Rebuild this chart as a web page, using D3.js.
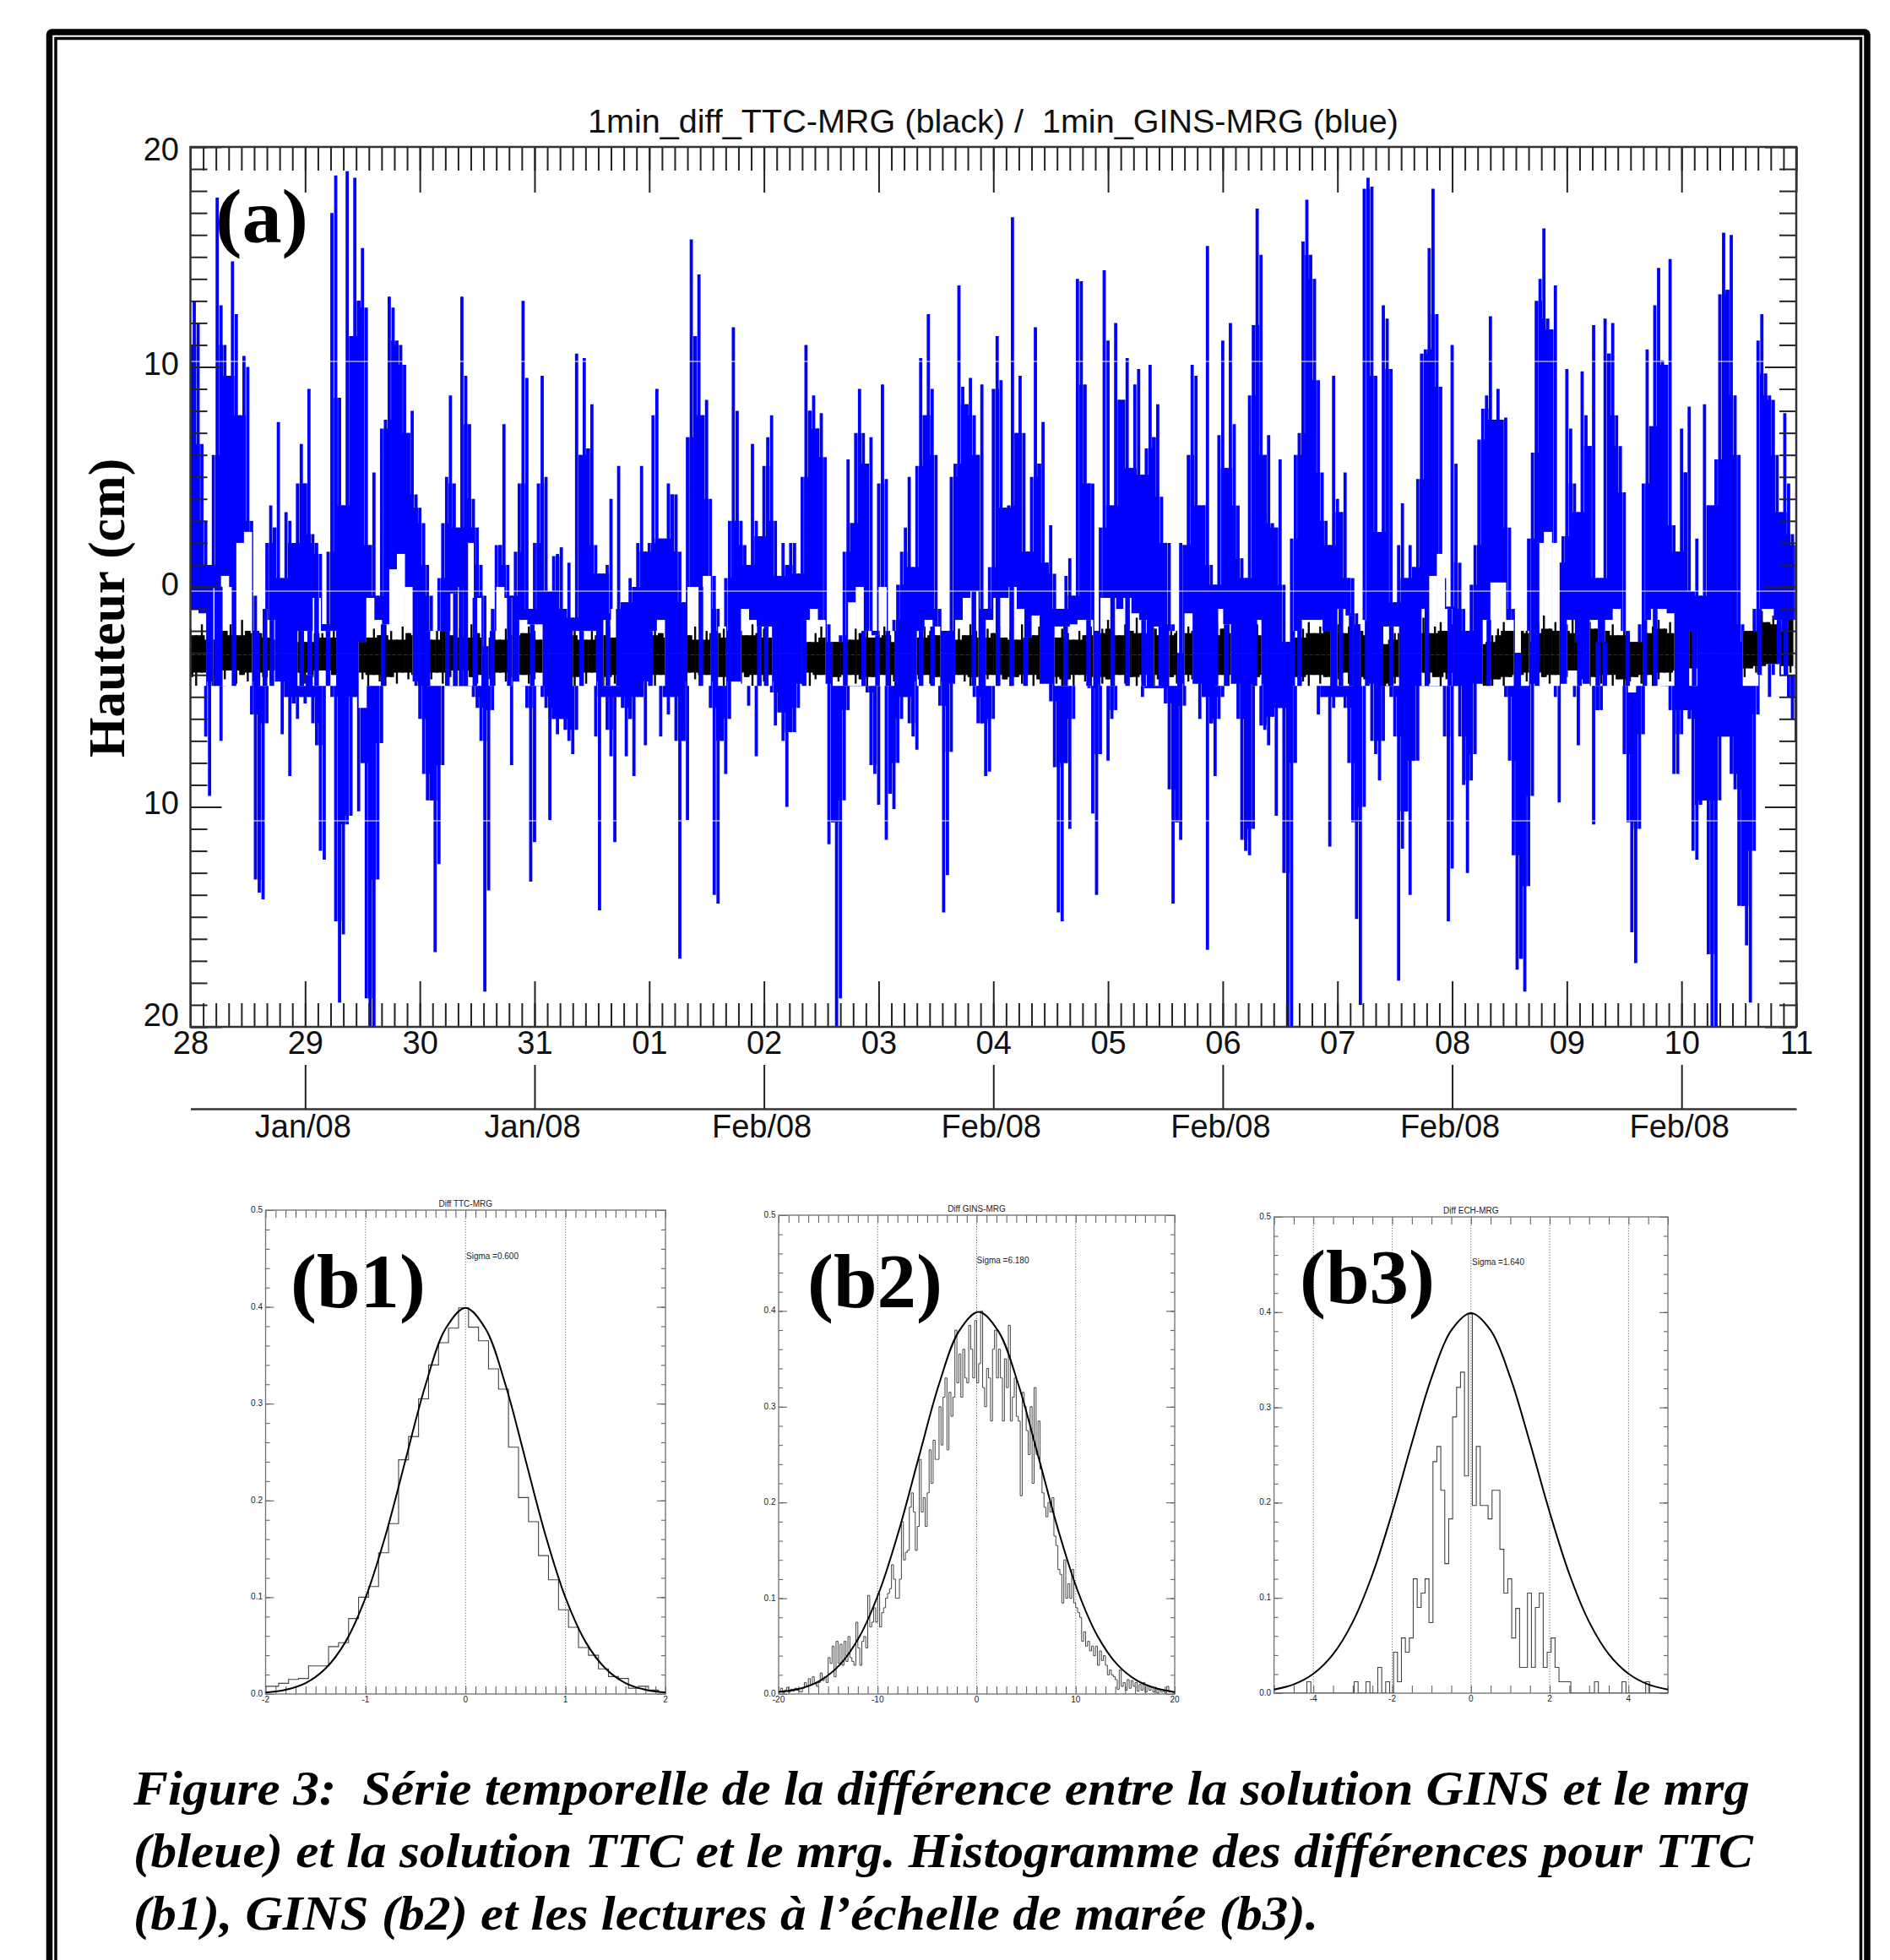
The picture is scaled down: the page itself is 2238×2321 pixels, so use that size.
<!DOCTYPE html>
<html>
<head>
<meta charset="utf-8">
<script src="https://cdn.jsdelivr.net/npm/d3@7"></script>
<style>
html, body { margin: 0; padding: 0; background: #fff; }
svg { display: block; }
text { white-space: pre; }
</style>
</head>
<body>
<div id="figure"></div>
<script>
// (a) time axis
var dayLabels = ["28","29","30","31","01","02","03","04","05","06","07","08","09","10","11"];
var monthDays = [1, 3, 5, 7, 9, 11, 13];
var monthLabels = ["Jan/08","Jan/08","Feb/08","Feb/08","Feb/08","Feb/08","Feb/08"];
var heightLabels = [-20, -10, 0, 10, 20];
var heightLabelNudge = [-2, 8, 9, 9, 15];

// (a) blue series, top and bottom of each 1/30 day sample, in cm
var blueHigh = [
11,13,12,6.5,3,1,6,17.7,12.8,11,
9.6,14.8,12.4,7.8,10.5,10,3,-.4,-2,-1.5,
2,3.7,2.7,7.5,.4,3.4,3,2,4.7,6.5,
4.7,9,2.4,2,1.5,-1.7,1.6,17,18.7,8.6,
3.7,18.9,11.4,18.6,13,15.4,12.7,1.9,5.2,-.4,
7.2,7.6,13.2,12.7,11.2,11,10.1,7,8,4.2,
3.6,2.9,1,-.4,-2,.4,2.9,5,8.7,4.7,
2.7,13.2,9.6,7.4,4,2.7,1,-.4,-2.7,-1,
1.9,1.9,7.4,1,-.4,1.6,4.7,13,9.5,-1,
2,4.7,9.6,5,-.2,1.4,1.5,1.8,-1,1.1,
-1.4,10.6,6,10.4,6.3,8.3,1.9,.6,.6,1,
4,-1.2,5.5,-.7,-.7,.4,0,2,5.5,1.6,
2,7.8,9,2.2,2.2,4.7,4.2,4.2,1.6,-.7,
6.8,15.8,11.4,14.2,7.8,8.5,4,.5,-1,-2,
.4,
3,11.8,8,3,1.9,1,6.5,3,2.3,5.5,
6.8,7.8,3,.5,2,1,2,2,.6,5,
11,8,8.7,7.2,7.9,5.9,-1.7,-2.5,-2.5,-2.2,
1.6,5.8,2.9,7,9,7,5.6,6.8,-2,4.7,
9.2,4.9,-2,-1.5,.1,1.6,2.7,5,.9,5.5,
10.4,7.8,12.4,9,6,-1,-2,-2,5,5.6,
13.7,9.1,8.3,9.5,7.8,6,9.2,-1,.9,9,
11.4,9.4,3.6,3.7,16.8,7,9.6,7,1.6,5,
11.8,5.6,7.5,1.1,2.8,.6,-1,-1,.5,1.3,
-.4,14,13.9,9.2,4.7,4.7,-2,2.7,14.4,11.2,
3.7,12,8.5,8.5,10.4,5.4,9.2,9.9,5.1,6.3,
10.1,6.8,8.3,4.1,2,2,-1.7,-3,2,1.9,
6,10.1,9.6,3.7,3.7,15.5,1,.1,6.9,11.2,
5.4,12,7.4,3.7,1.3,.4,8.7,11.9,17.2,
15.1,6,6.9,2.9,2.7,5.8,.1,-2.5,2.2,6,
7,15.7,17.6,15.1,14,9.4,5.2,3,1.9,9.6,
4,3.4,5.2,.4,.4,-1.2,-1.7,18.1,18.6,18.2,
9.6,2.5,12.8,12.2,9.9,-.7,1.9,3.8,.4,1.9,
.9,4.9,10.6,10.8,15.4,18.1,12.4,9.1,.4,-.9,
11,5.6,1.1,-1,-2,.1,1.9,6.7,8.1,8.7,
12.3,7.6,9,7.6,7.7,2.7,-1,-4,-3,-2.5,
2.2,6.1,13,14,16.3,12.2,11.7,13.7,1.1,2.3,
9.9,7.2,4.7,3.4,9.8,7.8,6.4,11.9,.4,.4,
12.2,10.6,12,7.8,6.4,4.3,-2.5,-2.5,-2.5,-1.7,
4.7,10.8,7.3,12.8,14.5,10.3,10.1,14.9,2.8,1.6,
7.2,5.2,8.2,-.2,2.2,-.4,8.3,3.7,3.7,5.8,
13.3,16.1,13.5,16,8.7,6,-1.7,-2.5,-2.5,-1,
11.2,12.4,9.7,8.7,8.5,6,3.4,7.9,4.7,2.4,1.9
];
var blueLow = [
-4,-4.3,-4,-4.3,-6.8,-9.5,-4.5,-4.3,-7,-4.5,
-4.3,-4.3,-4.3,-4.3,-4.3,-4.3,-5.8,-13.3,-13.9,-14.2,
-6.2,-4.3,-4.3,-4.3,-6.7,-5,-8.6,-5.3,-6,-5,
-5.3,-5,-6.2,-7.2,-12,-12.4,-4.3,-5,-15.2,-18.9,
-15.8,-10.8,-10.4,-5,-10.2,-8,-18.7,-20,-20,-13.3,
-7.1,-4.3,-4.3,-4.3,-4.3,-4.3,-4.3,-4.3,-4.3,-4.5,
-6,-8.5,-9.7,-9.7,-16.6,-12.6,-8.1,-4.3,-4.5,-4.5,
-4.5,-4.5,-4.5,-4.5,-5,-5.5,-7,-18.4,-13.8,-5.6,
-4.3,-4.3,-4.3,-4.3,-8.1,-4.3,-4.3,-4.5,-5.5,-13.4,
-11.6,-4.5,-5,-5.5,-10.6,-6,-6.7,-6,-6.5,-7,
-7.6,-6.5,-4.3,-4.3,-4.3,-4.3,-6.8,-14.7,-5,-6.5,
-7.7,-11.6,-5,-5.5,-7.7,-6,-8.6,-5,-5,-7.2,
-4.3,-4.3,-4.3,-6.8,-5,-5.8,-5,-7,-16.9,-7,
-10.6,-4.3,-4.3,-4.3,-4.3,-4.3,-5.5,-14,-14.4,-7,
-8.5,
-6,-4.3,-4.3,-4.3,-4.3,-5.4,-4.3,-7.7,-4.3,-4.3,
-4.3,-4.8,-6.3,-5.7,-7,-10,-6.6,-6.6,-5.5,-4.4,
-4.4,-4.4,-4.4,-4.4,-4.4,-4.4,-11.7,-10.7,-20,-18.7,
-9.7,-5.6,-4.5,-4.5,-4.5,-4.5,-4.8,-8.1,-8.5,-9.9,
-4.3,-11.5,-9.4,-10.1,-8,-6,-5,-6.2,-6.8,-7.4,
-4.3,-4.3,-4.3,-4.3,-4.3,-5.4,-14.8,-13.1,-7.5,-4.4,
-4.4,-4.4,-4.4,-4.4,-5,-6.2,-6.2,-8.6,-8.4,-6,
-4.4,-4.4,-4.4,-4.4,-4.4,-4.4,-4.4,-4.4,-4.4,-4.4,
-4.4,-4.4,-4.4,-4.4,-5.2,-8.2,-14.8,-15.2,-8,-11,
-6,-4.4,-4.4,-4.4,-4.6,-10.3,-14,-7.6,-4.4,-7.9,
-6,-5.6,-4.4,-4.4,-4.4,-4.4,-4.4,-4.4,-5,-4.6,
-4.6,-4.6,-4.6,-4.6,-5.3,-9.2,-14.4,-10.7,-11.5,-5.4,
-4.4,-4.4,-4.4,-6,-5,-16.5,-6.2,-8.6,-6,-5,
-4.4,-4.4,-4.4,-6,-11.5,-12,-12.2,-11,-4.4,
-6.3,-6.5,-7.2,-5.9,-10.4,-5.5,-13,-20,-20,-8,
-4.5,-4.4,-4.4,-4.4,-4.4,-5.8,-5,-5,-11.8,-5.5,
-5,-5,-5.5,-8,-10.7,-15.1,-19,-10,-4.4,-7,
-7.6,-8.8,-7,-4.5,-5,-6.8,-17.9,-11.9,-10.2,-14,
-7.9,-7.9,-4.5,-4.5,-4.5,-4.5,-4.5,-4.5,-6.8,-15.2,
-12.8,-4.5,-6.8,-9,-13,-8.8,-7.6,-4.4,-4.4,-4.4,
-4.4,-4.4,-4.4,-4.4,-5,-7.9,-12.2,-17.4,-16.9,-18.4,
-13.6,-9.5,-4.4,-4.4,-4.4,-4.4,-4.4,-5,-9.8,-4.4,
-4.4,-4.4,-5,-7.2,-4.4,-4.4,-4.4,-10.8,-5.6,-5.6,
-4.4,-4.4,-4.4,-4.4,-4.4,-7.6,-10.7,-15.7,-17.1,-11,
-6.7,-4.4,-4.4,-4.4,-4.4,-4.5,-4.5,-5.6,-8.5,-8.5,
-6.7,-5.6,-6,-12,-12.4,-9.9,-9.7,-16.7,-20,-20,
-9.7,-6.8,-6.8,-8.5,-9.2,-14.5,-14.5,-16.3,-18.9,-12,
-5.8,-4,-3.5,-5,-4,-3.5,-4,-4,-5,-6,-7
];

// (a) where the blue leaves the band clear, each 1/15 day, in cm
var gapTop = [
-1,-1.2,-3,0,.5,0,2,2.5,-3,-1,-1.5,-3,-3,-3,-2,-2,-.5,-2,-2,-3,
-3,-3,-2.5,-.5,-1.5,-1.7,.8,1.5,0,-3,-3,-2,-2,-2,-.3,0,2,-.5,-3,-2,
0,-.5,-3,-1.5,-1.7,-1.7,-3,-3,-3,-3,-2,-2,-2,-3,-1.5,-1,-3,-3,-3,-3,
-2,-1.5,-3,-3,-3,0,0,.5,-3,-1.8,
-3,-3,-1,-1.5,-1.8,-1.8,-3,-3,-3,-3,-1.5,-1,-1.5,-3,-2.5,-2.5,-.7,0,-2,-2.2,
0,-2,-3,-3,-3,-2,-1.5,-1.8,-3,-3,-1.5,-.5,-.2,-3,-1.5,-.5,-.5,0,-1,-2.3,
-1.3,-3,-3,-1.8,-1.8,-1.7,-1.5,-1.5,-3,-.5,-.5,-1,-.5,-1.2,-1.5,-3,-1.8,-3,-2,-3,
-1.2,-3,-3,-3,-1,-1.7,-3,-3,-3,-1.5,
-3,-3,-3,-3,-2,-1.5,-1.5,-1.5,-2,-3,-1,-1.3,-3,-1.5,-3,-3,-1.8,-1.8,-3,-3,
-3,-1,.5,1.5,-1,-3,-3,-3,-3,-1.5,.2,.2,-1.5,-3,-2,-3,2,2.5,2,-3,
-1.5,-2.5,-3,-1.5,-2.5,-1.5,-1,-2,-2.5,-2.5,-1.5,-1,-1,-1.2,-3,-3,-2,-3,-3,-3,
-3,-3,-3,-2,-2,-1,-1,-1.5,-2,-1.5,-3
];
var gapBottom = [
-4.5,-4.5,-3,-4.5,-4.5,-4.5,-4.5,-4.5,-3,-4.5,-4.5,-3,-3,-3,-4.5,-4,-4.5,-4.5,-4.5,-3,
-3,-3,-5.5,-4.5,-4.5,-4.5,-4.5,-4.5,-4.5,-3,-3,-4.5,-4.5,-4.5,-4.5,-4.5,-4.5,-4.5,-3,-4.5,
-4.5,-4.5,-3,-4.5,-4.5,-4.5,-3,-3,-3,-3,-4.5,-4.5,-4.5,-3,-4.5,-4.5,-3,-3,-3,-3,
-4.5,-4.5,-3,-3,-3,-4.5,-4.5,-4.5,-3,-4.5,
-3,-3,-4.5,-4.5,-4.5,-4.5,-3,-3,-3,-3,-4.5,-4.5,-4.5,-3,-4.5,-4.5,-4.5,-4.5,-4.5,-4.5,
-4.5,-4.5,-3,-3,-3,-4.5,-4.5,-4.5,-3,-3,-4.5,-4.5,-4.5,-3,-4.5,-4.5,-4.5,-4.5,-4.5,-4.5,
-4.5,-3,-3,-4.5,-4.5,-4.5,-4.5,-4.5,-3,-4.5,-4.5,-4.5,-4.5,-4.5,-4.5,-3,-4.5,-3,-4.5,-3,
-4.5,-3,-3,-3,-4.5,-4.5,-3,-3,-3,-4.5,
-3,-3,-3,-3,-4.5,-4.5,-4.5,-4.5,-4.5,-3,-4.5,-4.5,-3,-4.5,-3,-3,-4.5,-4.5,-3,-3,
-3,-4.5,-4.5,-4.5,-4.5,-3,-3,-3,-3,-4.5,-4.5,-4.5,-4.5,-3,-4.5,-3,-4.5,-4.5,-4.5,-3,
-4.5,-4.5,-3,-4.5,-4.5,-4.5,-4.5,-4.5,-4.8,-4.5,-4.5,-4.5,-4.5,-4.5,-3,-3,-4.5,-3,-3,-3,
-3,-3,-3,-4.5,-4.5,-4,-3.5,-3.5,-4,-4,-3
];

// (a) days where a blue stroke crosses the clear band
var crossDays = [
.14,.23,.26,.38,.56,.65,.71,.79,.86,.9,.97,1.04,1.1,1.2,1.32,1.68,1.98,2.02,2.07,2.24,2.31,2.36,2.4,2.48,2.54,2.63,2.78,2.86,2.98,3.14,3.19,3.41,3.56,3.64,3.73,3.79,3.94,4.01,4.14,4.33,4.45,4.58,
4.72,4.96,5.02,5.35,5.71,5.87,5.99,6.08,6.37,6.47,6.65,6.83,6.92,7.04,7.16,7.28,7.41,7.63,7.83,7.9,8.04,8.17,8.31,8.46,8.64,8.8,8.94,9.03,9.28,
9.61,9.67,9.94,10.03,10.12,10.18,10.26,10.47,10.54,10.72,10.78,10.98,11.17,11.32,11.68,11.74,11.95,12.11,12.15,12.27,12.33,12.53,12.68,12.77,12.96,13.04,13.11,13.52,13.68,13.85,13.91
];

// (a) black series envelope, each 1/20 day, in mm
var bandHigh = [
-19,-22,-17,-21,-24,-13,-20,-17,-22,-15,-20,-17,-21,-19,-23,-20,-24,-18,-22,-17,
-25,-19,-16,-21,-23,-17,-22,-24,-18,-21,-16,-23,-19,-22,-17,-20,-24,-18,-21,-16,
-22,-19,-24,-17,-20,-16,-22,-19,-23,-17,-21,-18,-23,-20,-24,-19,-22,-17,-21,-18,
-20,-24,-19,-25,-21,-17,-22,-18,-20,-24,-17,-19,-22,-18,-23,-20,-17,-21,-24,-19,
-22,-18,-21,-17,-23,-19,-16,-22,-18,-24,-20,-17,-21,-19,-23,-18,-20,-22,-17,-21,
-19,-23,-18,-21,-24,-20,-22,-18,-25,-21,-18,-23,-19,-22,-20,-24,-19,-21,-17,-23,
-20,-18,-22,-25,-19,-21,-17,-23,-18,-20,-22,-18,-21,-24,-19,-22,-17,-20,-23,-19,
-21,-18,-23,-20,-24,-17,-20,-22,-18,-21,-17,-23,-19,-21,-24,-20,-22,-18,-21,-19,
-15,-19,-22,-17,-20,-14,-21,-17,-19,-16,-22,-18,-15,-21,-18,-20,-16,-19,-22,-17,
-19,-15,-21,-18,-13,-20,-17,-22,-16,-19,-14,-21,-18,-23,-19,-16,-21,-18,-15,-20,
-17,-21,-18,-14,-20,-16,-22,-24,-26,-24,-21,-18,-15,-20,-17,-14,-21,-18,-16,-20,
-17,-14,-20,-18,-23,-26,-25,-22,-19,-16,-20,-14,-18,-15,-21,-17,-13,-19,-16,-20,
-17,-14,-21,-18,-16,-19,-15,-20,-17,-22,-19,-16,-20,-17,-21,-18,-15,-19,-16,-21,
-18,-14,-17,-12,-16,-13,-17,-11,-15,-13,-17,-12,-16,-14,-11,-16,-13,-17,-12,-15,
-14
];
var bandLow = [
-41,-45,-39,-43,-46,-40,-42,-38,-44,-40,-43,-39,-45,-41,-44,-38,-46,-40,-42,-39,
-44,-41,-45,-38,-43,-40,-46,-41,-44,-39,-42,-45,-40,-43,-46,-41,-44,-39,-42,-45,
-40,-46,-42,-39,-44,-41,-45,-38,-43,-41,-44,-40,-42,-45,-39,-43,-41,-46,-40,-44,
-42,-39,-45,-41,-47,-40,-43,-46,-41,-44,-39,-42,-45,-41,-44,-40,-46,-42,-39,-44,
-41,-45,-40,-43,-46,-41,-44,-39,-42,-45,-40,-44,-41,-46,-42,-39,-44,-41,-45,-40,
-43,-40,-45,-42,-47,-41,-44,-39,-46,-42,-40,-45,-41,-43,-46,-40,-44,-42,-45,-41,
-44,-40,-46,-43,-48,-41,-45,-42,-40,-44,-41,-46,-42,-45,-40,-43,-47,-41,-44,-42,
-40,-45,-42,-47,-41,-44,-40,-46,-42,-45,-41,-44,-47,-42,-45,-40,-43,-46,-41,-44,
-42,-46,-40,-44,-41,-47,-43,-40,-45,-42,-46,-41,-44,-40,-43,-47,-42,-45,-41,-44,
-40,-46,-42,-44,-39,-43,-41,-46,-40,-44,-42,-38,-45,-41,-43,-46,-40,-44,-41,-45,
-42,-39,-44,-41,-45,-42,-46,-48,-49,-47,-44,-41,-45,-40,-43,-39,-44,-41,-46,-42,
-39,-44,-40,-46,-48,-49,-47,-45,-42,-46,-41,-44,-40,-43,-39,-45,-41,-44,-40,-43,
-41,-38,-44,-42,-46,-41,-44,-40,-45,-42,-47,-43,-41,-44,-40,-46,-42,-39,-43,-41,
-38,-41,-37,-40,-38,-36,-40,-37,-39,-36,-38,-41,-37,-39,-36,-40,-37,-38,-36,-39,
-37
];

// (b1) histogram and fitted curve
var b1Values = [.008,.008,.011,.015,.016,.029,.029,.049,.053,.078,.1,.111,.146,.176,.242,.266,.305,.34,.363,.378,.399,.379,.365,.336,.315,.255,.203,.178,.143,.118,.087,.069,.048,.04,.026,.018,.016,.006,.008,.004,.002];
var b1CurveX = [-2,-1.8,-1.6,-1.4,-1.2,-1,-.8,-.6,-.4,-.2,0,.2,.4,.6,.8,1,1.2,1.4,1.6,1.8,2];
var b1CurveY = [.0015,.0044,.0113,.0264,.054,.0995,.164,.242,.3194,.3774,.399,.3774,.3194,.242,.164,.0995,.054,.0264,.0113,.0044,.0015];

// (b2) histogram and fitted curve
var b2Values = [
.002,.006,.001,.004,.007,.002,.005,.003,.006,.004,
.003,.002,.006,.012,.008,.016,.01,.018,.012,.008,
.012,.022,.014,.018,.012,.038,.032,.05,.018,.055,
.032,.052,.03,.055,.034,.06,.038,.034,.03,.075,
.048,.03,.055,.06,.048,.103,.07,.075,.09,.075,
.105,.07,.085,.09,.1,.105,.11,.135,.12,.1,
.1,.12,.18,.14,.148,.15,.195,.21,.19,.15,
.175,.245,.19,.205,.175,.21,.255,.22,.265,.245,
.245,.3,.26,.31,.33,.255,.315,.29,.31,.38,
.325,.355,.31,.36,.33,.325,.385,.36,.33,.39,
.325,.345,.4,.32,.3,.34,.33,.285,.36,.38,
.33,.36,.33,.285,.35,.32,.385,.285,.31,.33,
.29,.285,.207,.315,.3,.275,.25,.3,.22,.32,
.25,.285,.235,.21,.195,.185,.2,.19,.205,.165,
.155,.13,.125,.095,.14,.1,.115,.1,.13,.095,
.09,.085,.08,.055,.065,.05,.055,.045,.05,.04,
.05,.03,.045,.035,.04,.03,.02,.025,.02,.018,
.015,.005,.025,.008,.012,.004,.015,.006,.014,.008,
.012,.003,.01,.004,.012,.002,.009,.004,.007,.002,
.006,.001,.005,.002,.003,.001,.008,.002,.002,.001
];
var b2CurveX = [-20,-17.8,-15.8,-13.8,-11.8,-9.8,-7.8,-5.8,-3.8,-1.8,.2,2.2,4.2,6.2,8.2,10.2,12.2,14.2,16.2,18.2,20];
var b2CurveY = [.0021,.0057,.014,.0307,.0606,.1078,.1726,.249,.3236,.3786,.399,.3786,.3236,.249,.1726,.1078,.0606,.0307,.014,.0057,.0021];

// (b3) histogram and fitted curve
var b3Values = [
0,0,0,0,0,0,0,0,.012,0,
0,0,0,0,0,0,0,0,0,0,
.012,0,0,.012,0,0,.027,0,.012,0,
.043,.012,.058,.043,.058,.12,.09,.105,.12,.074,
.243,.259,.213,.136,.183,.29,.321,.337,.228,.398,
.197,.259,.197,.197,.183,.213,.213,.151,.105,.12,
.058,.089,.027,.027,.105,.027,.09,.105,.027,.043,
.058,.027,.012,.012,.012,0,0,0,0,0,
0,.012,0,0,0,0,0,0,.012,0,
0,0,0,0,.012,0,0,0,0,0
];
var b3CurveX = [-5,-4.5,-4,-3.5,-3,-2.5,-2,-1.5,-1,-.5,0,.5,1,1.5,2,2.5,3,3.5,4,4.5,5];
var b3CurveY = [.0038,.0092,.0204,.0409,.0748,.1248,.1897,.2627,.3313,.3809,.399,.3809,.3313,.2627,.1897,.1248,.0748,.0409,.0204,.0092,.0038];

var pageWidth = 2238,
	pageHeight = 2321,
	plot = {left: 225.5, right: 2127, top: 174, bottom: 1216},
	days = dayLabels.length - 1,
	sampleDay = 1 / 30,
	gapDay = 1 / 15,
	bandDay = 1 / 20,
	sans = "'Liberation Sans', Arial, sans-serif",
	serif = "'Liberation Serif', 'Times New Roman', serif",
	axisColor = "#222";

var svg = d3.select("#figure").append("svg")
	.attr("width", pageWidth)
	.attr("height", pageHeight)
	.style("background", "#fff");

// double page border, it runs off the bottom
svg.append("rect").attr("x", 58.5).attr("y", 38).attr("rx", 3)
	.attr("width", 2152.5).attr("height", 2400)
	.attr("fill", "none").attr("stroke", "#000").attr("stroke-width", 7.5);
svg.append("rect").attr("x", 66).attr("y", 45.5)
	.attr("width", 2137.5).attr("height", 2400)
	.attr("fill", "none").attr("stroke", "#000").attr("stroke-width", 3.5);

var x = d3.scaleLinear().domain([0, days]).range([plot.left, plot.right]),
	y = d3.scaleLinear().domain([-20, 20]).range([plot.bottom, plot.top]);

svg.append("clipPath").attr("id", "plot-clip").append("rect")
	.attr("x", plot.left).attr("y", plot.top)
	.attr("width", plot.right - plot.left).attr("height", plot.bottom - plot.top);

var chartG = svg.append("g").attr("clip-path", "url(#plot-clip)");

// the body keeps only what the neighbours share, so lone samples stay thin spikes
function shared(values, i, pick) {
	return pick(values.slice(Math.max(0, i - 1), i + 2));
}
function drawSeries(parent, values, step, base, pick, color, spikeWidth) {
	var body = d3.area()
		.x(function(d, i) { return x((i - 0.5) * step); })
		.y0(function(d, i) { return y(base(i)); })
		.y1(function(d, i) { return y(shared(values, i, pick)); })
		.curve(d3.curveStepAfter);
	parent.append("path").datum(values).attr("d", body).attr("fill", color);
	parent.append("g").selectAll("line").data(values).enter().append("line")
		.attr("x1", function(d, i) { return x(i * step); })
		.attr("x2", function(d, i) { return x(i * step); })
		.attr("y1", function(d, i) { return y(base(i)); })
		.attr("y2", function(d) { return y(d); })
		.attr("stroke", color).attr("stroke-width", spikeWidth);
}

// blue spikes, drawn from the middle of the band outward
function bandMiddle() { return -3; }
drawSeries(chartG, blueHigh, sampleDay, bandMiddle, d3.min, "#00f", 3.8);
drawSeries(chartG, blueLow, sampleDay, bandMiddle, d3.max, "#00f", 3.8);

// open the gaps, then let the black band show only through them
var gapIndex = d3.range(gapTop.length);
function gapRects(sel) {
	sel.attr("x", function(i) { return x(i * gapDay); })
		.attr("width", function(i) { return x((i + 1) * gapDay) - x(i * gapDay) + 0.5; })
		.attr("y", function(i) { return y(gapTop[i]); })
		.attr("height", function(i) { return y(gapBottom[i]) - y(gapTop[i]); });
}
chartG.selectAll(".gap").data(gapIndex).enter().append("rect")
	.attr("class", "gap").attr("fill", "#fff").call(gapRects);
svg.append("clipPath").attr("id", "gap-clip")
	.selectAll("rect").data(gapIndex).enter().append("rect").call(gapRects);

var bandG = chartG.append("g").attr("clip-path", "url(#gap-clip)");
function bandCentre() { return -3.1; }
drawSeries(bandG, bandHigh.map(function(d) { return d / 10; }), bandDay, bandCentre, d3.min, "#000", 2.4);
drawSeries(bandG, bandLow.map(function(d) { return d / 10; }), bandDay, bandCentre, d3.max, "#000", 2.4);

// blue strokes that cross the band
chartG.selectAll(".cross").data(crossDays).enter().append("line")
	.attr("class", "cross")
	.attr("x1", x).attr("x2", x)
	.attr("y1", function(d) { return y(gapTop[Math.floor(d / gapDay)]); })
	.attr("y2", function(d) { return y(gapBottom[Math.floor(d / gapDay)]); })
	.attr("stroke", "#00f").attr("stroke-width", 5.5);

// white scan seams across the plot
chartG.selectAll(".seam").data([428, 700, 972]).enter().append("line")
	.attr("class", "seam")
	.attr("x1", plot.left).attr("x2", plot.right)
	.attr("y1", function(d) { return d; }).attr("y2", function(d) { return d; })
	.attr("stroke", "#fff").attr("stroke-width", 1.2);

function styleAxis(g, width) {
	g.selectAll(".domain").remove();
	g.selectAll(".tick line").attr("stroke", axisColor).attr("stroke-width", width);
	g.selectAll("text").attr("fill", "#111").style("font-family", sans).style("font-size", "38px");
}

var minorDays = d3.range(0, days * 9 + 1).map(function(d) { return d / 9; }),
	majorDays = d3.range(0, days + 1),
	minorHeights = d3.range(-20, 21, 1);

function ticksX(axis, yPos, minorLen, majorLen) {
	svg.append("g").attr("transform", "translate(0," + yPos + ")")
		.call(axis(x).tickValues(minorDays).tickSize(minorLen).tickFormat(""))
		.call(styleAxis, 2);
	svg.append("g").attr("transform", "translate(0," + yPos + ")")
		.call(axis(x).tickValues(majorDays).tickSize(majorLen).tickFormat(""))
		.call(styleAxis, 2);
}
ticksX(d3.axisBottom, plot.top, 28, 54);
ticksX(d3.axisTop, plot.bottom, 28, 54);

function ticksY(axis, xPos, minorLen, majorLen) {
	svg.append("g").attr("transform", "translate(" + xPos + ",0)")
		.call(axis(y).tickValues(minorHeights).tickSize(minorLen).tickFormat(""))
		.call(styleAxis, 2);
	svg.append("g").attr("transform", "translate(" + xPos + ",0)")
		.call(axis(y).tickValues(heightLabels).tickSize(majorLen).tickFormat(""))
		.call(styleAxis, 2);
}
ticksY(d3.axisRight, plot.left, 20, 37);
ticksY(d3.axisLeft, plot.right, 20, 37);

svg.append("rect")
	.attr("x", plot.left).attr("y", plot.top)
	.attr("width", plot.right - plot.left).attr("height", plot.bottom - plot.top)
	.attr("fill", "none").attr("stroke", "#333").attr("stroke-width", 2.5);

// labels on the main axes
svg.append("g").attr("transform", "translate(0," + plot.bottom + ")")
	.call(d3.axisBottom(x).tickValues(majorDays).tickSize(0).tickPadding(5)
		.tickFormat(function(d) { return dayLabels[d]; }))
	.call(styleAxis, 0);

svg.append("g").attr("transform", "translate(" + (plot.left - 13.5) + ",0)")
	.call(d3.axisLeft(y).tickValues(heightLabels).tickSize(0).tickPadding(0)
		.tickFormat(function(d) { return Math.abs(d); }))
	.call(styleAxis, 0)
	.selectAll("text").attr("dy", function(d, i) { return heightLabelNudge[i]; });

var monthAxis = d3.axisBottom(x).tickValues(monthDays).tickSizeInner(-52).tickSizeOuter(0).tickPadding(7)
	.tickFormat(function(d, i) { return monthLabels[i]; });
var monthG = svg.append("g").attr("transform", "translate(0,1313)").call(monthAxis);
monthG.select(".domain").attr("stroke", "#333").attr("stroke-width", 2.5);
monthG.selectAll(".tick line").attr("stroke", axisColor).attr("stroke-width", 2);
monthG.selectAll("text").attr("fill", "#111").attr("dx", -3).style("font-family", sans).style("font-size", "38px");

svg.append("text").attr("x", 696).attr("y", 157)
	.attr("textLength", 960).attr("lengthAdjust", "spacingAndGlyphs")
	.style("font-family", sans).style("font-size", "38px").attr("fill", "#111")
	.text("1min_diff_TTC-MRG (black) /  1min_GINS-MRG (blue)");

svg.append("text").attr("transform", "translate(147,720) rotate(-90)")
	.attr("text-anchor", "middle").attr("textLength", 354).attr("lengthAdjust", "spacingAndGlyphs")
	.style("font-family", serif).style("font-size", "61px").style("font-weight", "bold")
	.text("Hauteur (cm)");

function panelLabel(text, xPos, yPos, width) {
	svg.append("text").attr("x", xPos).attr("y", yPos)
		.attr("textLength", width).attr("lengthAdjust", "spacingAndGlyphs")
		.style("font-family", serif).style("font-size", "91px").style("font-weight", "bold")
		.text(text);
}

// one histogram panel
function drawHistogram(o) {
	var hx = d3.scaleLinear().domain(o.domain).range([o.left, o.right]),
		hy = d3.scaleLinear().domain([0, 0.5]).range([o.bottom, o.top]),
		g = svg.append("g"),
		clipId = "clip-" + o.id,
		barColor = "#444",
		tickColor = "#555";

	svg.append("clipPath").attr("id", clipId).append("rect")
		.attr("x", o.left).attr("y", o.top)
		.attr("width", o.right - o.left).attr("height", o.bottom - o.top);

	// dotted grid at the labelled values
	g.selectAll(".grid").data(o.grid).enter().append("line")
		.attr("x1", hx).attr("x2", hx)
		.attr("y1", o.top).attr("y2", o.bottom)
		.attr("stroke", "#666").attr("stroke-width", 1).attr("stroke-dasharray", "1.2,2");

	function tickAxis(axis, pos, values, len, scale, horizontal) {
		var a = g.append("g")
			.attr("transform", horizontal ? "translate(0," + pos + ")" : "translate(" + pos + ",0)")
			.call(axis(scale).tickValues(values).tickSize(len).tickFormat(""));
		a.select(".domain").remove();
		a.selectAll(".tick line").attr("stroke", tickColor).attr("stroke-width", 1);
	}
	var xTicks = d3.range(0, Math.round((o.domain[1] - o.domain[0]) / o.xStep) + 1).map(function(i) { return o.domain[0] + i * o.xStep; }),
		yMinor = d3.range(0, 26).map(function(i) { return i * 0.02; }),
		yMajor = d3.range(0, 6).map(function(i) { return i * 0.1; });
	tickAxis(d3.axisBottom, o.top, xTicks, 9, hx, true);
	tickAxis(d3.axisTop, o.bottom, xTicks, 9, hx, true);
	tickAxis(d3.axisRight, o.left, yMinor, 5, hy, false);
	tickAxis(d3.axisLeft, o.right, yMinor, 5, hy, false);
	tickAxis(d3.axisRight, o.left, yMajor, 10, hy, false);
	tickAxis(d3.axisLeft, o.right, yMajor, 10, hy, false);

	g.append("rect").attr("x", o.left).attr("y", o.top)
		.attr("width", o.right - o.left).attr("height", o.bottom - o.top)
		.attr("fill", "none").attr("stroke", "#777").attr("stroke-width", 1.4);

	// histogram steps, the last bin is carried to the right edge
	var steps = d3.line()
		.x(function(d, i) { return hx(o.binStart + i * o.binWidth); })
		.y(function(d) { return hy(d); })
		.curve(d3.curveStepAfter);
	g.append("path").datum(o.values.concat([o.values[o.values.length - 1], 0]))
		.attr("d", steps).attr("clip-path", "url(#" + clipId + ")")
		.attr("fill", "none").attr("stroke", barColor).attr("stroke-width", o.lineWidth);

	var curve = d3.line()
		.x(function(d, i) { return hx(o.curveX[i]); })
		.y(function(d) { return hy(d); })
		.curve(d3.curveCatmullRom);
	g.append("path").datum(o.curveY).attr("d", curve)
		.attr("fill", "none").attr("stroke", "#000").attr("stroke-width", 2);

	function smallText(sel) {
		sel.style("font-family", sans).style("font-size", "10px").attr("fill", "#222");
	}
	g.selectAll(".xlab").data(o.xLabels).enter().append("text")
		.attr("x", hx).attr("y", o.bottom + 10).attr("text-anchor", "middle")
		.text(function(d) { return d; }).call(smallText);
	g.selectAll(".ylab").data(yMajor).enter().append("text")
		.attr("x", o.left - 3.5).attr("y", function(d) { return hy(d) + 3; }).attr("text-anchor", "end")
		.text(function(d) { return d.toFixed(1); }).call(smallText);
	g.append("text").attr("x", hx(0)).attr("y", o.titleY).attr("text-anchor", "middle")
		.text(o.title).call(smallText);
	g.append("text").attr("x", o.sigmaX).attr("y", o.sigmaY)
		.text(o.sigma).call(smallText);
}

drawHistogram({
	id: "b1", left: 314.5, right: 788, top: 1433, bottom: 2006, domain: [-2, 2], xStep: 0.1,
	grid: [-1, 0, 1], xLabels: [-2, -1, 0, 1, 2], values: b1Values, binStart: -2.07, binWidth: 0.1, lineWidth: 1.1,
	curveX: b1CurveX, curveY: b1CurveY, title: "Diff TTC-MRG", titleY: 1429,
	sigma: "Sigma =0.600", sigmaX: 552, sigmaY: 1491
});
drawHistogram({
	id: "b2", left: 922, right: 1391, top: 1439, bottom: 2006, domain: [-20, 20], xStep: 1,
	grid: [-10, 0, 10], xLabels: [-20, -10, 0, 10, 20], values: b2Values, binStart: -20, binWidth: 0.2, lineWidth: 1,
	curveX: b2CurveX, curveY: b2CurveY, title: "Diff GINS-MRG", titleY: 1435,
	sigma: "Sigma =6.180", sigmaX: 1156.5, sigmaY: 1496
});
drawHistogram({
	id: "b3", left: 1508.6, right: 1975, top: 1441, bottom: 2005, domain: [-5, 5], xStep: 0.5,
	grid: [-4, -2, 0, 2, 4], xLabels: [-4, -2, 0, 2, 4], values: b3Values, binStart: -4.965, binWidth: 0.1, lineWidth: 1.1,
	curveX: b3CurveX, curveY: b3CurveY, title: "Diff ECH-MRG", titleY: 1437,
	sigma: "Sigma =1.640", sigmaX: 1743, sigmaY: 1498
});

panelLabel("(a)", 255, 287, 110);
panelLabel("(b1)", 344, 1548, 160);
panelLabel("(b2)", 956, 1548, 160);
panelLabel("(b3)", 1539, 1543, 160);

// caption
var captionLines = [
	"Figure 3:  Série temporelle de la différence entre la solution GINS et le mrg",
	"(bleue) et la solution TTC et le mrg. Histogramme des différences pour TTC",
	"(b1), GINS (b2) et les lectures à l’échelle de marée (b3)."
];
var captionWidths = [1914, 1918, 1403];
svg.selectAll(".caption").data(captionLines).enter().append("text")
	.attr("class", "caption")
	.attr("x", 158)
	.attr("y", function(d, i) { return 2137 + i * 74; })
	.attr("textLength", function(d, i) { return captionWidths[i]; })
	.attr("lengthAdjust", "spacingAndGlyphs")
	.style("font-family", serif).style("font-size", "58px")
	.style("font-weight", "bold").style("font-style", "italic")
	.text(function(d) { return d; });
</script>
</body>
</html>
